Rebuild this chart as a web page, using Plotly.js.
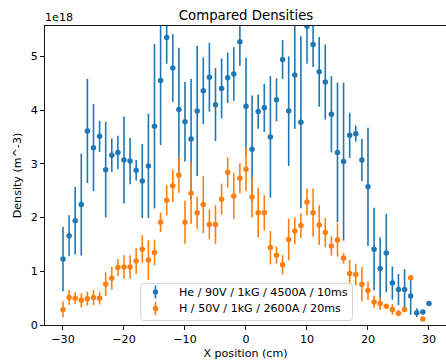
<!DOCTYPE html>
<html>
<head>
<meta charset="utf-8">
<script src="https://cdn.plot.ly/plotly-3.0.1.min.js"></script>
<style>
html, body { margin: 0; padding: 0; background: #ffffff; }
#chart { width: 446px; height: 364px; }
</style>
</head>
<body>
<div id="chart"></div>
<script>
// X positions (cm)
const positionsCm = [-30,-29,-28,-27,-26,-25,-24,-23,-22,-21,-20,-19,-18,-17,-16,-15,-14,-13,-12,-11,
  -10,-9,-8,-7,-6,-5,-4,-3,-2,-1,0,1,2,3,4,5,6,7,8,9,10,11,12,13,14,15,16,17,18,19,20,
  21,22,23,24,25,26,27,28,29,30];

// He / 90V / 1kG / 4500A / 10ms  -- density in units of 1e18 m^-3
const heDensity = [1.23,1.66,1.94,2.24,3.61,3.30,3.51,2.89,3.16,3.21,3.07,3.05,2.88,2.68,2.96,3.70,4.55,5.35,4.78,4.01,
  3.78,3.46,3.98,4.36,4.61,4.10,4.40,4.60,4.67,5.27,4.07,3.27,3.97,4.04,3.50,4.19,4.94,3.98,4.65,3.77,5.56,
  5.22,4.71,4.52,3.92,3.21,3.04,3.53,3.56,3.07,2.57,1.41,1.05,1.34,0.78,0.66,0.66,0.54,0.23,0.24,0.40];
const heError = [0.60,0.38,0.63,0.95,0.97,0.81,0.29,0.89,0.31,0.31,0.81,0.43,0.19,0.69,0.97,1.53,1.20,0.49,0.63,1.15,
  0.74,1.12,1.21,0.62,0.64,0.68,0.56,0.47,0.50,0.45,0.90,1.00,0.32,0.45,1.13,0.40,0.36,1.02,1.00,1.60,0.70,
  0.42,0.65,0.70,0.71,1.30,1.47,0.42,0.15,0.39,1.10,0.77,0.58,0.73,0.31,0.29,0.38,0.35,0.08,0.04,0.00];

// H / 50V / 1kG / 2600A / 20ms  -- density in units of 1e18 m^-3
const hDensity = [0.29,0.51,0.50,0.46,0.49,0.51,0.50,0.76,0.87,1.07,1.08,1.08,1.19,1.41,1.21,1.35,1.91,2.32,2.59,2.79,
  1.91,2.45,2.09,2.24,1.87,1.87,2.34,2.84,2.40,2.73,2.90,2.38,2.09,2.09,1.44,1.30,1.12,1.59,1.75,1.85,2.29,
  2.09,1.86,1.72,1.47,1.58,1.24,0.96,0.94,0.76,0.64,0.43,0.40,0.35,0.29,0.22,0.29,0.88,null,0.11,null];
const hError = [0.15,0.14,0.11,0.13,0.13,0.14,0.12,0.22,0.21,0.16,0.22,0.22,0.24,0.26,0.37,0.24,0.18,0.28,0.30,0.33,
  0.40,0.57,0.30,0.53,0.28,0.36,0.29,0.28,0.43,0.28,0.41,0.38,0.46,0.33,0.31,0.16,0.18,0.39,0.25,0.23,0.25,
  0.45,0.37,0.27,0.18,0.31,0.10,0.25,0.20,0.32,0.17,0.11,0.12,0.03,0.10,0.06,0.03,0.00,0.00,0.00,0.00];

const seriesNames = ["He / 90V / 1kG / 4500A / 10ms", "H / 50V / 1kG / 2600A / 20ms"];
const xTicks = [-30,-20,-10,0,10,20,30];
const yTicks = [0,1,2,3,4,5];

const FONT = "DejaVu Sans, Liberation Sans, sans-serif";
const BLUE = "#1f77b4", ORANGE = "#ff7f0e";
const colors = [BLUE, ORANGE];

function trace(y, err, name, color) {
  return {
    type: "scatter", mode: "markers", x: positionsCm, y: y, name: name,
    marker: { color: color, size: 5.5 },
    error_y: { type: "data", array: err, visible: true, color: color, thickness: 1.6, width: 0 },
    cliponaxis: true, showlegend: false
  };
}

const data = [
  trace(heDensity, heError, seriesNames[0], BLUE),
  trace(hDensity, hError, seriesNames[1], ORANGE)
];

// ---- legend drawn in paper coordinates (matplotlib-style box) ----
const PLOT_W = 401, PLOT_H = 299;
const px2x = p => (p - 45) / PLOT_W;      // pixel -> paper x
const py2y = p => (325 - p) / PLOT_H;     // pixel -> paper y
const box = { x0: px2x(140.7), x1: px2x(352.5), y0: py2y(320.5), y1: py2y(283.3) };
const rx = 3 / PLOT_W, ry = 3 / PLOT_H;
const roundRect =
  `M ${box.x0 + rx} ${box.y0} L ${box.x1 - rx} ${box.y0} Q ${box.x1} ${box.y0} ${box.x1} ${box.y0 + ry} ` +
  `L ${box.x1} ${box.y1 - ry} Q ${box.x1} ${box.y1} ${box.x1 - rx} ${box.y1} ` +
  `L ${box.x0 + rx} ${box.y1} Q ${box.x0} ${box.y1} ${box.x0} ${box.y1 - ry} ` +
  `L ${box.x0} ${box.y0 + ry} Q ${box.x0} ${box.y0} ${box.x0 + rx} ${box.y0} Z`;

const legendRows = [292, 308.5];   // pixel centers of legend rows
const shapes = [
  { type: "path", xref: "paper", yref: "paper", path: roundRect,
    fillcolor: "rgba(255,255,255,0.8)", line: { color: "#d6d6d6", width: 1 }, layer: "above" }
];
const annotations = [
  { text: "1e18", xref: "paper", yref: "paper", x: 0, y: 1, xanchor: "left", yanchor: "bottom",
    showarrow: false, font: { family: FONT, size: 11.1, color: "#000" }, xshift: -2 }
];
legendRows.forEach((py, i) => {
  shapes.push({ type: "line", xref: "paper", yref: "paper", x0: px2x(155.5), x1: px2x(155.5),
    y0: py2y(py + 6.5), y1: py2y(py - 6.5), line: { color: colors[i], width: 1.6 }, layer: "above" });
  shapes.push({ type: "circle", xref: "paper", yref: "paper", x0: px2x(155.5 - 2.7), x1: px2x(155.5 + 2.7),
    y0: py2y(py + 2.7), y1: py2y(py - 2.7), fillcolor: colors[i], line: { width: 0 }, layer: "above" });
  annotations.push({ text: seriesNames[i], xref: "paper", yref: "paper", x: px2x(176.5), y: py2y(py),
    xanchor: "left", yanchor: "middle", showarrow: false,
    font: { family: FONT, size: 11.1, color: "#000" } });
});

const layout = {
  width: 446, height: 364,
  margin: { l: 45, r: 0, t: 26, b: 39, pad: 0 },
  paper_bgcolor: "#ffffff", plot_bgcolor: "#ffffff",
  font: { family: FONT, size: 11.1, color: "#000000" },
  title: { text: "Compared Densities", font: { family: FONT, size: 13.3, color: "#000" },
           xref: "container", x: 0.5516, xanchor: "center", yref: "container", y: 0.959, yanchor: "middle" },
  showlegend: false,
  xaxis: {
    range: [-32.95, 32.79], tickvals: xTicks, ticks: "outside", ticklen: 4, tickwidth: 0.9, tickcolor: "#000",
    showline: true, linecolor: "#000", linewidth: 0.9, mirror: true, showgrid: false, zeroline: false,
    tickfont: { family: FONT, size: 11.1 },
    title: { text: "X position (cm)", font: { family: FONT, size: 11.1 }, standoff: 3 }
  },
  yaxis: {
    range: [0, 5.563], tickvals: yTicks, ticks: "outside", ticklen: 4, tickwidth: 0.9, tickcolor: "#000",
    showline: true, linecolor: "#000", linewidth: 0.9, mirror: true, showgrid: false, zeroline: false,
    tickfont: { family: FONT, size: 11.1 },
    title: { text: "Density (m^-3)", font: { family: FONT, size: 11.1 }, standoff: 6 }
  },
  shapes: shapes,
  annotations: annotations
};

Plotly.newPlot("chart", data, layout, { displayModeBar: false, staticPlot: true });
</script>
</body>
</html>
